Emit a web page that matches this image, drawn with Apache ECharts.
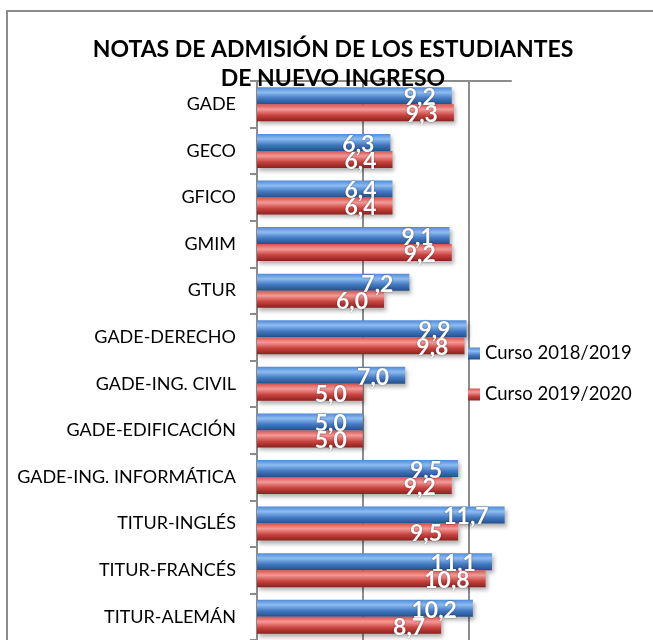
<!DOCTYPE html>
<html>
<head>
<meta charset="utf-8">
<script src="https://cdn.jsdelivr.net/npm/echarts@6/dist/echarts.min.js"></script>
<style>
  html, body { margin: 0; padding: 0; background: #fff; }
  #chart { width: 653px; height: 640px; }
</style>
</head>
<body>
<div id="chart"></div>
<script>
// datos
const titulos = ['NOTAS DE ADMISIÓN DE LOS ESTUDIANTES', 'DE NUEVO INGRESO'];
const grados = ['GADE', 'GECO', 'GFICO', 'GMIM', 'GTUR', 'GADE-DERECHO', 'GADE-ING. CIVIL',
  'GADE-EDIFICACIÓN', 'GADE-ING. INFORMÁTICA', 'TITUR-INGLÉS', 'TITUR-FRANCÉS', 'TITUR-ALEMÁN'];
const nombreSerie1 = 'Curso 2018/2019';
const nombreSerie2 = 'Curso 2019/2020';
const curso1819 = [9.2, 6.3, 6.4, 9.1, 7.2, 9.9, 7.0, 5.0, 9.5, 11.7, 11.1, 10.2];
const curso1920 = [9.3, 6.4, 6.4, 9.2, 6.0, 9.8, 5.0, 5.0, 9.2, 9.5, 10.8, 8.7];

const fuente = 'Lato, "Open Sans", sans-serif';

// degradado vertical tipo bisel de Excel
const degradado = (c0, c1, c2, c3) => ({
  type: 'linear', x: 0, y: 0, x2: 0, y2: 1,
  colorStops: [
    { offset: 0, color: c0 },
    { offset: 0.3, color: c1 },
    { offset: 0.65, color: c2 },
    { offset: 1, color: c3 },
  ],
});
const azul = degradado('#4f8ad6', '#8cbcf2', '#4379c2', '#23508b');
const rojo = degradado('#d8524f', '#f39a97', '#c9423e', '#8a2320');

const etiqueta = {
  show: true,
  position: 'insideRight',
  distance: 16,
  offset: [0, 2],
  color: '#fff',
  fontFamily: fuente,
  fontWeight: 'bold',
  fontSize: 23,
  textShadowColor: 'rgba(0,0,0,0.45)',
  textShadowBlur: 2,
  formatter: (p) => p.value.toFixed(1).replace('.', ','),
};

const serie = (nombre, datos, color) => ({
  name: nombre,
  type: 'bar',
  data: datos,
  barWidth: 17,
  barGap: '0%',
  itemStyle: {
    color: color,
    shadowColor: 'rgba(0,0,0,0.3)',
    shadowBlur: 4,
    shadowOffsetX: 2,
    shadowOffsetY: 3,
  },
  label: etiqueta,
});

const chart = echarts.init(document.getElementById('chart'));
chart.setOption({
  animation: false,
  graphic: [
    {
      type: 'rect',
      shape: { x: 7, y: 11, width: 700, height: 700 },
      style: { fill: 'none', stroke: '#8c8c8c', lineWidth: 2 },
      z: -10,
    },
    {
      type: 'text',
      x: 333,
      y: 35,
      style: {
        text: titulos.join('\n'),
        align: 'center',
        verticalAlign: 'top',
        lineHeight: 29,
        fontFamily: fuente,
        fontWeight: 'bold',
        fontSize: 23,
        fill: '#000',
      },
      z: 10,
    },
  ],
  legend: {
    orient: 'vertical',
    left: 463,
    top: 339,
    itemWidth: 12,
    itemHeight: 12,
    itemGap: 22,
    icon: 'rect',
    textStyle: { fontFamily: fuente, fontSize: 18.5, color: '#000' },
    data: [nombreSerie1, nombreSerie2],
  },
  grid: { left: 257, top: 81, width: 254, height: 560 },
  xAxis: {
    type: 'value',
    position: 'top',
    min: 0,
    max: 12,
    interval: 5,
    axisLine: { show: true, lineStyle: { color: '#8c8c8c', width: 2 } },
    axisTick: { show: false },
    axisLabel: { show: false },
    splitLine: { show: true, showMaxLine: false, lineStyle: { color: '#8c8c8c', width: 2 } },
  },
  yAxis: {
    type: 'category',
    inverse: true,
    data: grados,
    axisLine: { show: true, lineStyle: { color: '#8c8c8c', width: 2 } },
    axisTick: { show: true, length: 7, lineStyle: { color: '#8c8c8c', width: 2 } },
    axisLabel: { margin: 21, fontFamily: fuente, fontSize: 18, color: '#000' },
  },
  series: [
    serie(nombreSerie1, curso1819, azul),
    serie(nombreSerie2, curso1920, rojo),
  ],
});
</script>
</body>
</html>
